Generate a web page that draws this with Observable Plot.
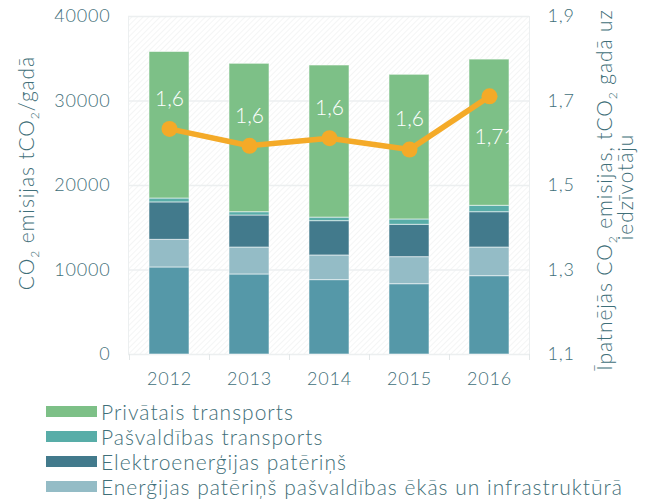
<!DOCTYPE html>
<html><head><meta charset="utf-8">
<script src="https://cdn.jsdelivr.net/npm/d3@7"></script>
<script src="https://cdn.jsdelivr.net/npm/@observablehq/plot@0.6"></script>
<style>
body{margin:0;background:#fff;font-family:Lato,sans-serif;}
#legend{margin-left:46px;margin-top:4px;color:#3f6f79;font-size:21px;font-weight:300;letter-spacing:1px}
.row{display:flex;align-items:center;height:25px;white-space:nowrap}
.sw{width:51px;height:11px;margin-right:4px;flex:none}
g[aria-label$="tick label"] text{letter-spacing:0.8px}
</style></head><body>
<div id="chart"></div><div id="legend"></div>
<script>
const years = ["2012","2013","2014","2015","2016"];
const seriesNames = ["Pārējie","Enerģijas patēriņš pašvaldības ēkās un infrastruktūrā","Elektroenerģijas patēriņš","Pašvaldības transports","Privātais transports"];
const baseValues = [10300,9470,8800,8320,9270];
const buildingValues = [3270,3190,2920,3200,3390];
const electricityValues = [4430,3790,4060,3830,4180];
const municipalTransportValues = [460,390,420,630,760];
const privateTransportValues = [17340,17560,18000,17120,17300];
const perCapita = [1.634,1.594,1.612,1.585,1.711];
const perCapitaLabels = ["1,6","1,6","1,6","1,6","1,71"];
const leftTicks = [0,10000,20000,30000,40000];
const rightTicks = [1.1,1.3,1.5,1.7,1.9];
const rightTickLabels = ["1,1","1,3","1,5","1,7","1,9"];
const colors = ["#5598a8","#94bcc6","#427a8c","#58ada8","#7dc087"];
const legendOrder = [4,3,2,1];
// titles: pieces [text, isSubscript]
const leftTitle = [["CO",0],["2",1],[" emisijas tCO",0],["2",1],["/gadā",0]];
const rightTitleLine1 = [["Īpatnējās CO",0],["2",1],[" emisijas, tCO",0],["2",1],[" gadā uz",0]];
const rightTitleLine2 = [["iedzīvotāju",0]];

const seriesValues = [baseValues,buildingValues,electricityValues,municipalTransportValues,privateTransportValues];
const stackData = [];
seriesNames.forEach((s,si)=>years.forEach((y,yi)=>stackData.push({year:y,series:s,value:seriesValues[si][yi]})));
const lMax = leftTicks[leftTicks.length-1];
const rMin = rightTicks[0], rMax = rightTicks[rightTicks.length-1];
const toLeft = v => (v - rMin)/(rMax - rMin)*lMax;
const lineData = years.map((y,i)=>({year:y,v:toLeft(perCapita[i]),label:perCapitaLabels[i],i}));
const txt = "#3f6f79";

const plot = Plot.plot({
  width:651, height:395,
  marginLeft:128, marginRight:122, marginTop:16, marginBottom:41,
  style:{fontFamily:"Lato, sans-serif", fontSize:"18px", color:txt, fontWeight:300},
  x:{domain:years, paddingInner:0.5, paddingOuter:0.25, label:null},
  y:{domain:[0,lMax], label:null},
  color:{domain:seriesNames, range:colors},
  marks:[
    Plot.frame({fill:"url(#hatch)", stroke:"#eceff0"}),
    Plot.ruleY(leftTicks,{stroke:"#eceff0", strokeWidth:1.5}),
    Plot.ruleX(years,{x:d=>d, dx:-40, y1:0, y2:0, insetBottom:-6, stroke:"#e3e7e8"}),
    Plot.ruleX([years[years.length-1]],{x:d=>d, dx:40, y1:0, y2:0, insetBottom:-6, stroke:"#e3e7e8"}),
    Plot.barY(stackData,{x:"year", y:"value", fill:"series", order:seriesNames, stroke:"#ffffff", strokeOpacity:0.55, strokeWidth:1}),
    Plot.axisY({ticks:leftTicks, tickSize:0, tickPadding:18, tickFormat:d=>String(d), label:null}),
    Plot.axisY({anchor:"right", ticks:rightTicks.map(toLeft), tickSize:0, tickPadding:18, tickFormat:(d,i)=>rightTickLabels[i], label:null}),
    Plot.axisX({tickSize:0, tickPadding:18, label:null}),
    Plot.line(lineData,{x:"year", y:"v", stroke:"#f4aa28", strokeWidth:5.5}),
    Plot.dot(lineData,{x:"year", y:"v", r:8, fill:"#f4aa28"}),
    Plot.text(lineData.filter(d=>d.i<4),{x:"year", y:"v", text:"label", dy:-30, fill:"#ffffff", fontSize:21, fontWeight:300}),
    Plot.text(lineData.filter(d=>d.i===4),{x:"year", y:"v", text:"label", dy:41, dx:-15, textAnchor:"start", fill:"#ffffff", fontSize:21, fontWeight:300, className:"lastlabel"})
  ]
});

const svg = d3.select(plot);
const defs = svg.insert("defs",":first-child");
const pat = defs.append("pattern").attr("id","hatch").attr("patternUnits","userSpaceOnUse")
  .attr("width",4).attr("height",4).attr("patternTransform","rotate(45)");
pat.append("rect").attr("width",4).attr("height",4).attr("fill","#ffffff");
pat.append("line").attr("x1",0).attr("y1",0).attr("x2",0).attr("y2",4).attr("stroke","#f1f2f2").attr("stroke-width",1.5);
const xs = plot.scale("x"), ys = plot.scale("y");
const lastYear = years[years.length-1];
const bx = xs.apply(lastYear);
defs.append("clipPath").attr("id","barclip").append("rect")
  .attr("x",bx).attr("y",ys.apply(lMax)).attr("width",xs.bandwidth).attr("height",ys.apply(0)-ys.apply(lMax));
svg.selectAll("g.lastlabel").attr("clip-path","url(#barclip)");

// axis titles
const frameLeft = 128, frameRight = 651-122;
const frameMid = (ys.apply(0)+ys.apply(lMax))/2;
function title(pieces, x, y){
  const t = svg.append("text").attr("transform",`translate(${x},${y}) rotate(-90)`)
    .attr("text-anchor","middle").attr("fill",txt).style("font-size","21px").style("font-weight",300)
    .style("letter-spacing","0.9px");
  pieces.forEach(([s,sub],k)=>{
    const ts = t.append("tspan").text(s);
    if(sub) ts.attr("dy",5).style("font-size","12px");
    else if(k>0 && pieces[k-1][1]) ts.attr("dy",-5);
  });
}
title(leftTitle, frameLeft-94, frameMid-12);
title(rightTitleLine1, frameRight+83, frameMid+5);
title(rightTitleLine2, frameRight+104, frameMid+2);

document.getElementById("chart").appendChild(plot);
const leg = d3.select("#legend");
legendOrder.forEach(i=>{
  const r = leg.append("div").attr("class","row");
  r.append("div").attr("class","sw").style("background",colors[i]);
  r.append("span").text(seriesNames[i]);
});
</script>
</body></html>
